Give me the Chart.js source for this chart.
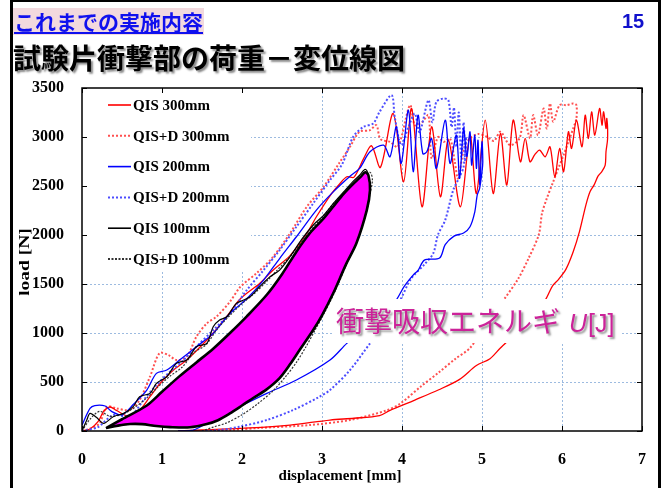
<!DOCTYPE html>
<html><head><meta charset="utf-8">
<script src="https://cdn.jsdelivr.net/npm/chart.js@4"></script>
<style>
html,body{margin:0;padding:0;background:#fff;width:667px;height:488px;overflow:hidden}
#wrap{position:relative;width:667px;height:488px}
#c{position:absolute;left:0;top:0}
#frame{position:absolute;left:10px;top:0;width:651px;height:488px;border-left:3px solid #000;border-right:3px solid #000;border-top:2px solid #000;box-sizing:border-box;pointer-events:none}
#sec{position:absolute;left:13px;top:8px;height:27px;padding:0 1px;background:#f2d9de;color:#1010ee;font:bold 21px 'Noto Sans CJK JP';line-height:27px;text-decoration:underline}
#num{position:absolute;left:622px;top:10px;color:#1010cc;font:bold 20px 'Liberation Sans'}
#ttl{position:absolute;left:13px;top:37px;font:bold 28px 'Noto Sans CJK JP';line-height:40px;color:#000;text-shadow:2px 2px 2px #888}
</style></head>
<body><div id="wrap">
<canvas id="c" width="667" height="488"></canvas>
<div id="sec">これまでの実施内容</div>
<div id="num">15</div>
<div id="ttl">試験片衝撃部の荷重－変位線図</div>
<div id="frame"></div>
</div>
<script>
// axis ticks
const xTicks = [0, 1, 2, 3, 4, 5, 6, 7];
const yTicks = [0, 500, 1000, 1500, 2000, 2500, 3000, 3500];

// series labels
const seriesLabels = ['QIS 300mm', 'QIS+D 300mm', 'QIS 200mm', 'QIS+D 200mm', 'QIS 100mm', 'QIS+D 100mm'];

// [displacement mm, load N]
const qis300 = [[0,0],[0.1,20],[0.2,95],[0.27,200],[0.35,245],[0.43,210],[0.6,145],[0.72,210],[0.85,350],[0.98,490],[1.14,620],[1.31,725],[1.48,860],[1.64,1000],[1.81,1170],[1.98,1350],[2.22,1506],[2.39,1642],[2.6,1790],[2.81,2017],[2.93,2186],[3.1,2400],[3.22,2520],[3.31,2594],[3.4,2590],[3.52,2780],[3.62,2910],[3.73,2690],[3.89,3240],[4.02,2543],[4.12,3291],[4.25,2288],[4.37,3104],[4.48,2390],[4.58,2968],[4.73,2288],[4.85,3019],[4.93,2424],[5.04,3172],[5.14,2424],[5.23,3036],[5.31,2509],[5.39,3172],[5.48,2747],[5.54,2985],[5.6,2747],[5.66,2820],[5.72,2866],[5.79,2798],[5.85,2900],[5.91,2594],[5.97,2883],[6.02,2645],[6.08,3053],[6.12,2883],[6.18,3172],[6.25,2900],[6.29,3223],[6.33,2985],[6.37,3257],[6.41,3019],[6.47,3291],[6.5,3121],[6.52,3257],[6.55,3087],[6.56,3190],[6.57,2985],[6.55,2850],[6.54,2713],[6.5,2650],[6.45,2600],[6.4,2509],[6.35,2441],[6.3,2310],[6.22,2040],[6.14,1829],[6.05,1652],[5.96,1550],[5.88,1479],[5.79,1336],[5.6,1150],[5.4,980],[5.23,847],[5.1,738],[4.93,668],[4.72,527],[4.46,421],[4.16,316],[3.85,211],[3.72,158],[3.4,130],[3.1,112],[2.6,61],[2.1,31],[1.5,10],[1.2,0]];

const qisD300 = [[0,0],[0.12,30],[0.22,80],[0.31,248],[0.43,231],[0.6,214],[0.72,316],[0.85,554],[0.97,795],[1.08,775],[1.18,724],[1.31,758],[1.43,962],[1.56,1098],[1.68,1166],[1.85,1320],[1.98,1472],[2.18,1608],[2.39,1778],[2.6,2017],[2.81,2288],[3.02,2492],[3.22,2740],[3.35,2900],[3.47,3053],[3.6,3070],[3.68,3121],[3.73,2980],[3.85,2950],[3.95,2900],[4.1,3325],[4.16,3121],[4.25,3150],[4.33,3223],[4.37,2781],[4.45,3000],[4.52,2950],[4.6,2985],[4.66,2747],[4.7,2577],[4.78,2900],[4.85,2985],[4.95,3030],[5.06,3002],[5.15,2960],[5.23,3053],[5.35,2917],[5.47,2988],[5.52,3223],[5.6,2988],[5.64,3223],[5.7,3019],[5.77,3291],[5.81,3087],[5.85,3342],[5.89,3155],[5.97,3325],[6.06,3325],[6.14,3342],[6.18,3325],[6.18,3190],[6.14,3087],[6.08,2951],[6.02,2815],[5.97,2713],[5.89,2543],[5.81,2373],[5.75,2220],[5.71,2004],[5.58,1758],[5.45,1550],[5.27,1336],[5.05,1080],[4.85,847],[4.67,738],[4.46,598],[4.24,457],[3.98,281],[3.81,211],[3.35,112],[2.85,61],[2.22,31],[1.85,10],[1.6,0]];

const qis200 = [[0,60],[0.1,230],[0.16,260],[0.29,255],[0.37,200],[0.5,165],[0.64,270],[0.81,418],[0.93,588],[1.06,622],[1.22,724],[1.43,860],[1.64,996],[1.85,1200],[2.06,1350],[2.27,1540],[2.47,1760],[2.68,1982],[2.93,2254],[3.14,2440],[3.35,2600],[3.47,2680],[3.6,2849],[3.77,2917],[3.85,2798],[3.93,3104],[3.99,2730],[4.08,3274],[4.14,2645],[4.2,3223],[4.26,2830],[4.31,2849],[4.37,2985],[4.43,2679],[4.54,3172],[4.6,2730],[4.68,3019],[4.72,2577],[4.77,3087],[4.81,2800],[4.85,3053],[4.87,2713],[4.91,3019],[4.93,2679],[4.95,2968],[4.97,2509],[5.0,2951],[5.01,2747],[5.0,2645],[4.97,2475],[4.94,2407],[4.91,2237],[4.85,2084],[4.77,2020],[4.65,1989],[4.54,1901],[4.47,1765],[4.28,1744],[4.2,1637],[4.15,1601],[4.03,1479],[3.9,1306],[3.6,1100],[3.31,894],[3.1,724],[2.68,520],[2.31,384],[1.97,248],[1.72,146],[1.56,79],[1.39,10],[1.2,0]];

const qisD200 = [[0,0],[0.06,10],[0.2,40],[0.39,163],[0.6,150],[0.77,316],[0.93,469],[1.1,605],[1.27,724],[1.43,860],[1.64,1030],[1.85,1200],[2.06,1438],[2.27,1642],[2.47,1846],[2.68,2084],[2.89,2322],[3.1,2560],[3.25,2720],[3.39,3002],[3.52,3104],[3.64,3138],[3.72,3257],[3.87,3427],[3.91,3200],[3.99,2917],[4.08,3100],[4.16,3240],[4.22,3050],[4.33,3376],[4.38,3150],[4.43,3359],[4.52,3393],[4.58,3376],[4.62,3100],[4.65,3300],[4.68,2900],[4.71,3250],[4.74,2800],[4.77,3150],[4.79,2750],[4.8,3000],[4.77,2696],[4.72,2594],[4.64,2458],[4.54,2152],[4.45,2004],[4.39,1812],[4.28,1700],[4.11,1550],[3.98,1339],[3.8,1100],[3.6,894],[3.35,622],[3.1,418],[2.97,350],[2.64,214],[2.31,112],[1.97,44],[1.72,10],[1.5,0]];

const qis100 = [[0,0],[0.06,112],[0.1,180],[0.18,140],[0.27,78],[0.39,146],[0.52,180],[0.64,248],[0.72,350],[0.85,384],[0.93,486],[1.06,554],[1.18,690],[1.31,724],[1.43,860],[1.56,894],[1.64,1064],[1.72,1132],[1.81,1166],[1.93,1302],[2.02,1336],[2.1,1370],[2.22,1472],[2.35,1574],[2.47,1642],[2.6,1778],[2.75,1960],[2.9,2110],[3.02,2200],[3.15,2330],[3.27,2440],[3.38,2540],[3.47,2610],[3.54,2670],[3.58,2610],[3.6,2458],[3.56,2254],[3.43,1915],[3.3,1700],[3.14,1405],[3.0,1180],[2.89,1030],[2.72,826],[2.6,680],[2.47,540],[2.3,420],[2.14,337],[2.0,260],[1.85,180],[1.7,110],[1.56,71],[1.35,38],[1.1,40],[0.93,51],[0.75,70],[0.6,71],[0.45,55],[0.3,30]];

const qisD100 = [[0,0],[0.1,120],[0.22,200],[0.35,150],[0.5,170],[0.64,230],[0.8,330],[0.95,450],[1.1,560],[1.25,650],[1.4,800],[1.55,880],[1.7,1050],[1.85,1180],[2.0,1300],[2.15,1400],[2.3,1520],[2.45,1650],[2.6,1780],[2.8,1990],[3.0,2180],[3.2,2370],[3.4,2510],[3.5,2580],[3.6,2640],[3.63,2560],[3.6,2420],[3.55,2220],[3.43,1930],[3.3,1690],[3.16,1420],[3.02,1190],[2.92,1040],[2.8,860],[2.68,700],[2.55,560],[2.4,420],[2.2,280],[2.0,165],[1.8,80],[1.64,40],[1.5,0]];

// closed QIS 100mm hysteresis loop = absorbed energy U
const energyLoop = [[0.3,30],[0.5,120],[0.81,260],[1.0,400],[1.22,560],[1.43,700],[1.64,840],[1.85,1000],[2.06,1170],[2.31,1390],[2.5,1600],[2.68,1830],[2.85,2020],[3.02,2170],[3.15,2300],[3.27,2420],[3.4,2530],[3.48,2590],[3.54,2640],[3.58,2610],[3.6,2458],[3.56,2254],[3.43,1915],[3.3,1700],[3.14,1405],[3.0,1180],[2.89,1030],[2.72,826],[2.6,680],[2.47,540],[2.3,420],[2.14,337],[2.0,260],[1.85,180],[1.7,110],[1.56,71],[1.35,38],[1.1,40],[0.93,51],[0.75,70],[0.6,71],[0.45,55],[0.3,30]];

const pts = a => a.map(p => ({x: p[0], y: p[1]}));

const styles = [
  {color:'#ff0000', width:1.3, dash:[]},
  {color:'#ff5050', width:2, dash:[2,2]},
  {color:'#0000ff', width:1.3, dash:[]},
  {color:'#4d4dff', width:2, dash:[2,2]},
  {color:'#000000', width:1.2, dash:[]},
  {color:'#333333', width:1.2, dash:[2,1.5]}
];
const seriesData = [qis300, qisD300, qis200, qisD200, qis100, qisD100];
const drawOrder = [5, 6, 3, 4, 0, 2];

const datasets = seriesData.map((d, i) => ({
  label: seriesLabels[i],
  data: pts(d),
  showLine: true,
  borderColor: styles[i].color,
  borderWidth: styles[i].width,
  borderDash: styles[i].dash,
  pointRadius: 0,
  tension: 0.3,
  fill: false,
  order: drawOrder[i]
}));
datasets.push({
  label: '',
  data: pts(energyLoop),
  showLine: true,
  borderColor: '#000',
  borderWidth: 2.6,
  backgroundColor: '#ff00ff',
  pointRadius: 0,
  tension: 0.3,
  fill: 'shape',
  order: 1
});

const serif = "'Liberation Serif', 'Times New Roman', serif";

const decor = {
  id: 'decor',
  beforeDatasetsDraw(chart) {
    const {ctx, chartArea: a, scales: {x: xs, y: ys}} = chart;
    ctx.save();
    // dotted grid
    ctx.strokeStyle = '#9dbbe0';
    ctx.lineWidth = 1;
    ctx.setLineDash([2, 2]);
    ctx.beginPath();
    xTicks.slice(1, -1).forEach(v => {
      const p = Math.round(xs.getPixelForValue(v)) + 0.5;
      ctx.moveTo(p, a.top); ctx.lineTo(p, a.bottom);
    });
    yTicks.slice(1, -1).forEach(v => {
      const p = Math.round(ys.getPixelForValue(v)) + 0.5;
      ctx.moveTo(a.left, p); ctx.lineTo(a.right, p);
    });
    ctx.stroke();
    ctx.setLineDash([]);
    // legend backdrop
    ctx.fillStyle = '#fff';
    ctx.fillRect(a.left + 1, a.top + 1, 250 - a.left, 270 - a.top);
    ctx.restore();
  },
  afterDatasetsDraw(chart) {
    const ctx = chart.ctx;
    ctx.save();
    ctx.fillStyle = '#fff';
    ctx.fillRect(334, 299, 288, 44);
    ctx.shadowColor = 'rgba(60,60,60,0.55)';
    ctx.shadowOffsetX = 2; ctx.shadowOffsetY = 2; ctx.shadowBlur = 2;
    ctx.fillStyle = '#cc2299';
    ctx.textBaseline = 'alphabetic';
    ctx.font = "28px 'Noto Sans CJK JP'";
    const t1 = '衝撃吸収エネルギ';
    ctx.fillText(t1, 336, 332);
    let x = 336 + ctx.measureText(t1).width + 9;
    ctx.font = "italic 25px 'Liberation Sans'";
    ctx.fillText('U', x, 332);
    x += ctx.measureText('U').width + 1;
    ctx.font = "25px 'Liberation Sans'";
    ctx.fillText('[J]', x, 332);
    ctx.restore();
  },
  afterDraw(chart) {
    const {ctx, chartArea: a, scales: {x: xs, y: ys}} = chart;
    ctx.save();
    // frame
    ctx.strokeStyle = '#000';
    ctx.lineWidth = 1.5;
    ctx.strokeRect(a.left, a.top, a.right - a.left, a.bottom - a.top);
    // inward tick marks on all four sides
    ctx.lineWidth = 1;
    ctx.beginPath();
    xTicks.forEach(v => {
      const p = Math.round(xs.getPixelForValue(v)) + 0.5;
      ctx.moveTo(p, a.bottom); ctx.lineTo(p, a.bottom - 5);
      ctx.moveTo(p, a.top); ctx.lineTo(p, a.top + 5);
    });
    yTicks.forEach(v => {
      const p = Math.round(ys.getPixelForValue(v)) + 0.5;
      ctx.moveTo(a.left, p); ctx.lineTo(a.left + 5, p);
      ctx.moveTo(a.right, p); ctx.lineTo(a.right - 5, p);
    });
    ctx.stroke();
    // legend
    ctx.font = 'bold 15px ' + serif;
    ctx.textBaseline = 'middle';
    ctx.fillStyle = '#000';
    seriesLabels.forEach((lab, i) => {
      const y = 105 + i * 30.8;
      ctx.strokeStyle = styles[i].color;
      ctx.lineWidth = styles[i].dash.length ? 2 : 1.6;
      ctx.setLineDash(styles[i].dash);
      ctx.beginPath(); ctx.moveTo(108, y); ctx.lineTo(131, y); ctx.stroke();
      ctx.setLineDash([]);
      ctx.fillText(lab, 133, y + 1);
    });
    // axis titles
    ctx.textAlign = 'center';
    ctx.fillText('displacement [mm]', 340, 476);
    ctx.translate(25, 262);
    ctx.rotate(-Math.PI / 2);
    ctx.scale(1.3, 1);
    ctx.fillText('load [N]', 0, 0);
    ctx.restore();
  }
};

new Chart(document.getElementById('c'), {
  type: 'scatter',
  data: {datasets},
  options: {
    responsive: false,
    animation: false,
    devicePixelRatio: 1,
    layout: {padding: {top: 88, right: 25, left: 0, bottom: 0}},
    plugins: {legend: {display: false}, tooltip: {enabled: false}},
    scales: {
      x: {
        type: 'linear', min: xTicks[0], max: xTicks[xTicks.length - 1],
        afterBuildTicks: s => { s.ticks = xTicks.map(v => ({value: v})); },
        afterFit: s => { s.height = 57; },
        ticks: {color: '#000', padding: 11, maxRotation: 0, callback: v => String(v), font: {family: serif, size: 16, weight: 'bold'}},
        grid: {display: false},
        border: {display: false}
      },
      y: {
        type: 'linear', min: yTicks[0], max: yTicks[yTicks.length - 1],
        afterBuildTicks: s => { s.ticks = yTicks.map(v => ({value: v})); },
        afterFit: s => { s.width = 82; },
        ticks: {color: '#000', padding: 10, callback: v => String(v), font: {family: serif, size: 16, weight: 'bold'}},
        grid: {display: false},
        border: {display: false}
      }
    }
  },
  plugins: [decor]
});
</script>
</body></html>
